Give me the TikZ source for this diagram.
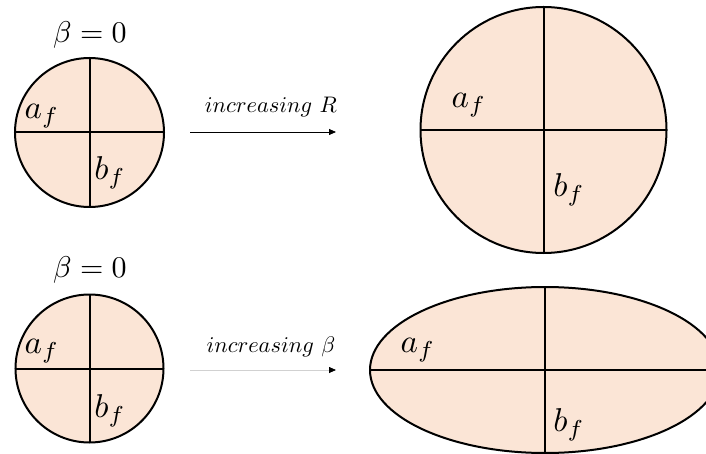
\documentclass[tikz,border=0pt]{standalone}
\usepackage{graphicx}
\usetikzlibrary{shapes.geometric,arrows.meta}
\definecolor{peach}{HTML}{FBE5D6}
\newcommand{\lblsz}[1]{\scalebox{3.3}{$#1$}}
\newcommand{\ttlsz}[1]{\scalebox{3.0}{$#1$}}
\newcommand{\arrsz}[1]{\scalebox{2.25}{$#1$}}
\tikzset{
  disc/.style={circle,draw=black,fill=peach,line width=2pt,inner sep=0pt,outer sep=0pt,minimum size=#1},
  oval/.style={ellipse,draw=black,fill=peach,line width=2pt,inner sep=0pt,outer sep=0pt},
  axisline/.style={line width=2pt},
  lbl/.style={inner sep=0pt},
  growarrow/.style={line width=0.8pt,-{Triangle[length=7pt,width=6pt,color=black]}}
}
\begin{document}
\begin{tikzpicture}[x=1pt,y=-1pt]
\useasboundingbox (0,0) rectangle (706,454);
% top row
\node[lbl] (t1) at (90,35) {\ttlsz{\beta = 0}};
\node[disc=149pt] (c1) at (89.5,132.5) {};
\draw[axisline] (c1.west) -- (c1.east);
\draw[axisline] (c1.north) -- (c1.south);
\node[lbl] (a1) at (42,116) {\lblsz{a_f}};
\node[lbl] (b1) at (110,173) {\lblsz{b_f}};
\coordinate (p1) at (190,132);
\coordinate (q1) at (336,132);
\draw[growarrow,draw=black] (p1) -- (q1);
\node[lbl] (l1) at (271,107) {\arrsz{increasing\ R}};
\node[disc=246pt] (c2) at (543.5,130) {};
\draw[axisline] (c2.west) -- (c2.east);
\draw[axisline] (c2.north) -- (c2.south);
\node[lbl] (a2) at (469,105) {\lblsz{a_f}};
\node[lbl] (b2) at (569,190) {\lblsz{b_f}};
% bottom row
\node[lbl] (t2) at (90,270) {\ttlsz{\beta = 0}};
\node[disc=148pt] (c3) at (89.5,368.5) {};
\draw[axisline] (c3.west) -- (c3.east);
\draw[axisline] (c3.north) -- (c3.south);
\node[lbl] (a3) at (42,351) {\lblsz{a_f}};
\node[lbl] (b3) at (110,411) {\lblsz{b_f}};
\coordinate (p2) at (190,370);
\coordinate (q2) at (336,370);
\draw[growarrow,draw=black!18] (p2) -- (q2);
\node[lbl] (l2) at (271,347) {\arrsz{increasing\ \beta}};
\node[oval,minimum width=350pt,minimum height=166pt] (e1) at (545,370) {};
\draw[axisline] (e1.west) -- (e1.east);
\draw[axisline] (e1.north) -- (e1.south);
\node[lbl] (a4) at (418,350) {\lblsz{a_f}};
\node[lbl] (b4) at (569,425) {\lblsz{b_f}};
\end{tikzpicture}
\end{document}
